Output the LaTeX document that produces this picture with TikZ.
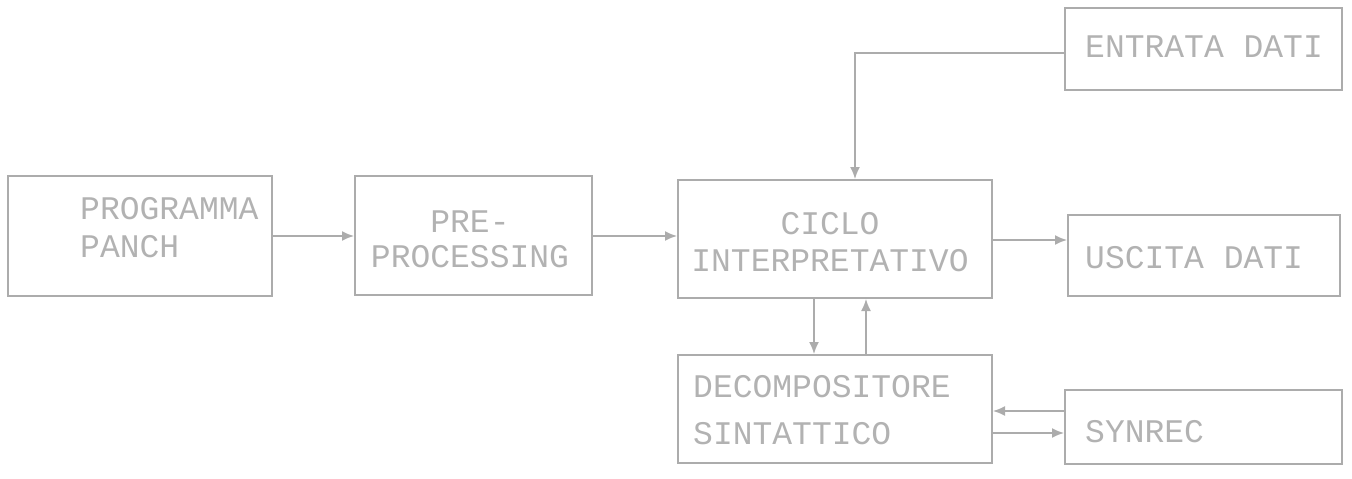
\documentclass[tikz,border=0pt]{standalone}
\usepackage{fontspec}
\setmonofont{Liberation Mono}
\usetikzlibrary{arrows.meta}
\definecolor{inkline}{RGB}{172,172,172}
\definecolor{inktext}{RGB}{178,178,178}
\tikzset{
  blk/.style={draw=inkline, line width=2pt, inner sep=0pt},
  lbl/.style={text=inktext, inner sep=0pt, font=\ttfamily\fontsize{33}{37}\selectfont},
  conn/.style={draw=inkline, line width=1.6pt, -{Latex[length=12pt,width=10pt]}}
}
\begin{document}
\begin{tikzpicture}[x=1pt,y=-1pt]
\useasboundingbox (0,0) rectangle (1352,479);
% boxes
\node[blk, minimum width=264pt, minimum height=120pt] (b1) at (140,236) {};
\node[blk, minimum width=237pt, minimum height=119pt] (b2) at (473.5,235.5) {};
\node[blk, minimum width=314pt, minimum height=118pt] (b3) at (835,239) {};
\node[blk, minimum width=277pt, minimum height=82pt] (b4) at (1203.5,49) {};
\node[blk, minimum width=272pt, minimum height=81pt] (b5) at (1204,255.5) {};
\node[blk, minimum width=314pt, minimum height=108pt] (b6) at (835,409) {};
\node[blk, minimum width=277pt, minimum height=74pt] (b7) at (1203.5,427) {};
% labels
\node[lbl, align=left, anchor=west, font=\ttfamily\fontsize{33}{38}\selectfont] (t1) at (80,228) {PROGRAMMA\\PANCH};
\node[lbl, align=center, font=\ttfamily\fontsize{33}{35}\selectfont] (t2) at (470,239) {PRE-\\PROCESSING};
\node[lbl, align=center] (t3) at (830,242) {CICLO\\INTERPRETATIVO};
\node[lbl, anchor=west] (t4) at (1085,47) {ENTRATA DATI};
\node[lbl, anchor=west] (t5) at (1085,258) {USCITA DATI};
\node[lbl, align=left, anchor=west, font=\ttfamily\fontsize{33}{47}\selectfont] (t6) at (693,410) {DECOMPOSITORE\\SINTATTICO};
\node[lbl, anchor=west] (t7) at (1085,432) {SYNREC};
% connectors
\draw[conn] (b1.east |- 0,236) -- (b2.west |- 0,236);
\draw[conn] (b2.east |- 0,236) -- (b3.west |- 0,236);
\coordinate (c1) at (855,53);
\draw[conn] (b4.west |- 0,53) -- (c1) -- (c1 |- b3.north);
\draw[conn] (b3.east |- 0,240) -- (b5.west |- 0,240);
\draw[conn] (b3.south -| 814,0) -- (b6.north -| 814,0);
\draw[conn] (b6.north -| 866,0) -- (b3.south -| 866,0);
\draw[conn] (b7.west |- 0,411) -- (b6.east |- 0,411);
\draw[conn] (b6.east |- 0,433) -- (b7.west |- 0,433);
\end{tikzpicture}
\end{document}
